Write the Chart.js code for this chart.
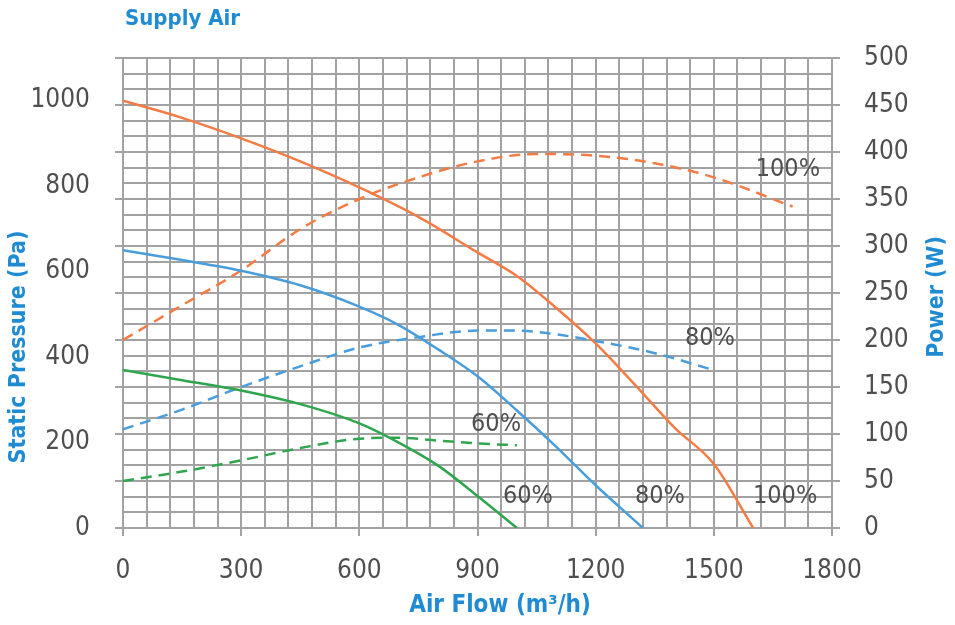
<!DOCTYPE html>
<html>
<head>
<meta charset="utf-8">
<script src="https://cdn.jsdelivr.net/npm/chart.js@4.4.0/dist/chart.umd.min.js"></script>
<style>
html, body { margin: 0; padding: 0; background: #fff; }
</style>
</head>
<body>
<canvas id="canvas" width="955" height="625"></canvas>
<script>
// tick labels
var flowTicks = [0, 300, 600, 900, 1200, 1500, 1800];
var pressureTicks = [0, 200, 400, 600, 800, 1000];
var powerTicks = [0, 50, 100, 150, 200, 250, 300, 350, 400, 450, 500];

// static pressure curves (Pa)
var flow100 = [0, 150, 300, 450, 600, 750, 900, 1000, 1100, 1200, 1300, 1400, 1500, 1600];
var pressure100 = [1000, 960, 912, 858, 797, 728, 645, 590, 515, 432, 335, 235, 150, 0];
var flow80 = [0, 150, 300, 450, 600, 700, 800, 900, 1000, 1100, 1200, 1320];
var pressure80 = [650, 627, 602, 568, 518, 475, 418, 355, 275, 190, 100, 0];
var flow60 = [0, 150, 300, 450, 600, 700, 800, 900, 1000];
var pressure60 = [370, 346, 322, 290, 245, 200, 146, 75, 0];

// power curves (W)
var powerFlow100 = [0, 150, 300, 450, 600, 750, 900, 1050, 1200, 1350, 1500, 1700];
var power100 = [200, 237, 274, 318, 350, 373, 390, 398, 396, 388, 373, 342];
var powerFlow80 = [0, 150, 300, 450, 600, 750, 900, 1000, 1100, 1200, 1350, 1500];
var power80 = [105, 126, 150, 172, 192, 203, 210, 210, 206, 199, 186, 168];
var powerFlow60 = [0, 150, 300, 450, 600, 700, 800, 900, 1000];
var power60 = [50, 60, 72, 85, 95, 96, 93, 90, 88];

// curve labels, placed in flow / power units
var curveLabels = ['100%', '80%', '60%', '60%', '80%', '100%'];
var curveLabelFlow = [1688, 1490, 947, 1028, 1363, 1681];
var curveLabelPower = [381, 202, 110, 33, 33, 33];

var orange = '#f37b44';
var blue = '#4a9ddb';
var green = '#2fa64d';
var gridColor = '#a2a2a2';
var labelColor = '#4f4f4f';
var titleColor = '#1e8bd3';
var tickFont = { family: '"DejaVu Sans Condensed", "DejaVu Sans", sans-serif', size: 26 };
var boldFamily = '"DejaVu Sans Condensed", "DejaVu Sans", sans-serif';

function points(xs, ys) {
    return xs.map(function (x, i) { return { x: x, y: ys[i] }; });
}

function curve(label, xs, ys, color, axis, dashed) {
    return {
        label: label,
        data: points(xs, ys),
        yAxisID: axis,
        borderColor: color,
        borderWidth: 2.5,
        borderDash: dashed ? [11, 7] : [],
        pointRadius: 0,
        cubicInterpolationMode: 'monotone',
        fill: false
    };
}

var textPlugin = {
    id: 'texts',
    afterDraw: function (chart) {
        var ctx = chart.ctx;
        var area = chart.chartArea;
        var xs = chart.scales.x;
        var ps = chart.scales.y2;
        ctx.save();
        ctx.fillStyle = titleColor;
        ctx.textBaseline = 'middle';
        ctx.textAlign = 'left';
        ctx.font = 'bold 22px ' + boldFamily;
        ctx.fillText('Supply Air', area.left + 2, 19);

        ctx.font = 'bold 24px ' + boldFamily;
        ctx.textAlign = 'center';
        ctx.fillText('Air Flow (m³/h)', 500, 606);

        ctx.font = 'bold 23px ' + boldFamily;
        ctx.save();
        ctx.translate(19, 347);
        ctx.rotate(-Math.PI / 2);
        ctx.fillText('Static Pressure (Pa)', 0, 0);
        ctx.restore();
        ctx.save();
        ctx.translate(937, 297);
        ctx.rotate(-Math.PI / 2);
        ctx.fillText('Power (W)', 0, 0);
        ctx.restore();

        ctx.fillStyle = labelColor;
        ctx.font = '25px ' + tickFont.family;
        for (var i = 0; i < curveLabels.length; i++) {
            ctx.fillText(curveLabels[i], xs.getPixelForValue(curveLabelFlow[i]), ps.getPixelForValue(curveLabelPower[i]));
        }
        ctx.restore();
    }
};

var markColor = function (every) {
    return function (c) { return c.index % every === 0 ? gridColor : 'rgba(0,0,0,0)'; };
};

plot();

function plot() {
    var context = document.getElementById('canvas').getContext('2d');
    var fanChart = new Chart(context, {
        type: 'line',
        data: {
            datasets: [
                curve('100%', flow100, pressure100, orange, 'y', false),
                curve('80%', flow80, pressure80, blue, 'y', false),
                curve('60%', flow60, pressure60, green, 'y', false),
                curve('100% power', powerFlow100, power100, orange, 'y2', true),
                curve('80% power', powerFlow80, power80, blue, 'y2', true),
                curve('60% power', powerFlow60, power60, green, 'y2', true)
            ]
        },
        options: {
            responsive: false,
            animation: false,
            devicePixelRatio: 1,
            layout: { padding: { top: 58, left: 0, right: 0, bottom: 0 } },
            plugins: { legend: { display: false }, tooltip: { enabled: false } },
            scales: {
                x: {
                    type: 'linear',
                    min: 0,
                    max: 1800,
                    afterBuildTicks: function (axis) {
                        axis.ticks = [];
                        for (var i = 0; i <= 30; i++) axis.ticks.push({ value: i * 60 });
                    },
                    ticks: {
                        autoSkip: false,
                        maxRotation: 0,
                        padding: 20,
                        color: labelColor,
                        font: tickFont,
                        callback: function (v, i) { return i % 5 === 0 ? String(flowTicks[i / 5]) : ''; }
                    },
                    grid: { color: gridColor, lineWidth: 2, tickLength: 8, tickColor: markColor(5) },
                    border: { color: gridColor, width: 2 },
                    afterFit: function (s) { s.height = 97; }
                },
                yl: {
                    type: 'linear',
                    position: 'left',
                    weight: 0,
                    min: 0,
                    max: 500,
                    afterBuildTicks: function (axis) {
                        axis.ticks = powerTicks.map(function (v) { return { value: v }; });
                    },
                    ticks: { display: false },
                    grid: { drawOnChartArea: false, color: gridColor, lineWidth: 2, tickLength: 8 },
                    border: { color: gridColor, width: 2 },
                    afterFit: function (s) { s.width = 8; }
                },
                y: {
                    type: 'linear',
                    position: 'left',
                    weight: 1,
                    min: 0,
                    max: 1100,
                    afterBuildTicks: function (axis) {
                        axis.ticks = pressureTicks.map(function (v) { return { value: v }; });
                    },
                    ticks: {
                        autoSkip: false,
                        padding: 17,
                        color: labelColor,
                        font: tickFont,
                        callback: function (v) { return String(v); }
                    },
                    grid: { display: false },
                    border: { display: false },
                    afterFit: function (s) { s.width = 115; }
                },
                y2: {
                    type: 'linear',
                    position: 'right',
                    min: 0,
                    max: 500,
                    afterBuildTicks: function (axis) {
                        axis.ticks = [];
                        for (var i = 0; i <= 30; i++) axis.ticks.push({ value: i * 50 / 3 });
                    },
                    ticks: {
                        autoSkip: false,
                        padding: 24,
                        color: labelColor,
                        font: tickFont,
                        callback: function (v, i) { return i % 3 === 0 ? String(powerTicks[i / 3]) : ''; }
                    },
                    grid: { color: gridColor, lineWidth: 2, tickLength: 8, tickColor: markColor(3) },
                    border: { color: gridColor, width: 2 },
                    afterFit: function (s) { s.width = 123; }
                }
            }
        },
        plugins: [textPlugin]
    });
}
</script>
</body>
</html>
